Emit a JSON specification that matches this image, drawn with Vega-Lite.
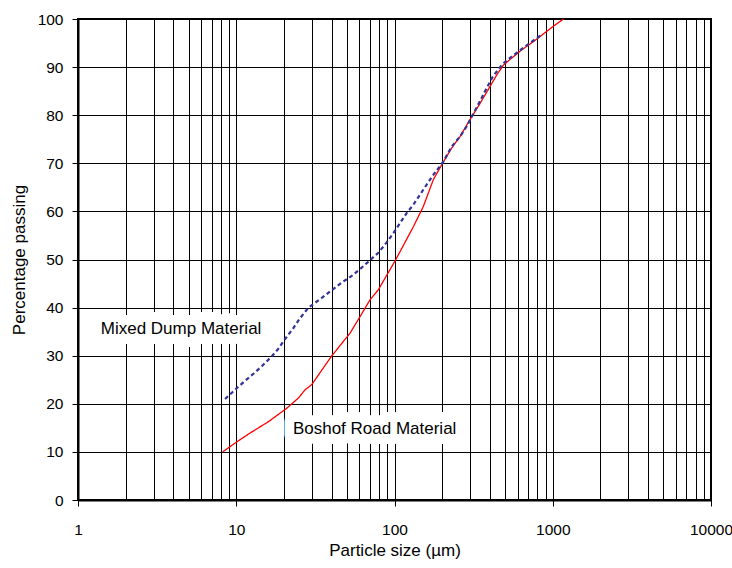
{
  "$schema": "https://vega.github.io/schema/vega-lite/v6.json",
  "width": 633,
  "height": 481,
  "autosize": "none",
  "padding": {"left": 78, "top": 19, "right": 21, "bottom": 68},
  "background": "white",
  "config": {
    "font": "Liberation Sans",
    "view": {"stroke": "#000", "strokeWidth": 2},
    "axis": {
      "domainColor": "#000", "domainWidth": 2,
      "gridColor": "#000", "gridWidth": 1, "gridOpacity": 1,
      "tickColor": "#000", "tickWidth": 1, "tickSize": 6,
      "labelColor": "#000", "labelFontSize": 15.5, "labelFont": "Liberation Sans",
      "titleColor": "#000", "titleFontSize": 17, "titleFontWeight": "normal", "titleFont": "Liberation Sans"
    }
  },
  "datasets": {
    "curves": [
      {"series": "Boshof Road Material", "size": 8.2, "pct": 10},
      {"series": "Boshof Road Material", "size": 10, "pct": 12},
      {"series": "Boshof Road Material", "size": 12.2, "pct": 13.9},
      {"series": "Boshof Road Material", "size": 16, "pct": 16.3},
      {"series": "Boshof Road Material", "size": 20.9, "pct": 19.1},
      {"series": "Boshof Road Material", "size": 24.7, "pct": 21.2},
      {"series": "Boshof Road Material", "size": 27.2, "pct": 22.9},
      {"series": "Boshof Road Material", "size": 30, "pct": 24},
      {"series": "Boshof Road Material", "size": 40, "pct": 29.9},
      {"series": "Boshof Road Material", "size": 52.4, "pct": 34.7},
      {"series": "Boshof Road Material", "size": 59, "pct": 37.5},
      {"series": "Boshof Road Material", "size": 70, "pct": 41.6},
      {"series": "Boshof Road Material", "size": 79, "pct": 43.7},
      {"series": "Boshof Road Material", "size": 102, "pct": 50},
      {"series": "Boshof Road Material", "size": 132, "pct": 56.9},
      {"series": "Boshof Road Material", "size": 152, "pct": 61},
      {"series": "Boshof Road Material", "size": 176, "pct": 66.6},
      {"series": "Boshof Road Material", "size": 202, "pct": 70.1},
      {"series": "Boshof Road Material", "size": 230, "pct": 73.2},
      {"series": "Boshof Road Material", "size": 260, "pct": 75.6},
      {"series": "Boshof Road Material", "size": 300, "pct": 79.1},
      {"series": "Boshof Road Material", "size": 348, "pct": 82.5},
      {"series": "Boshof Road Material", "size": 402, "pct": 86},
      {"series": "Boshof Road Material", "size": 443, "pct": 88.4},
      {"series": "Boshof Road Material", "size": 488, "pct": 90.4},
      {"series": "Boshof Road Material", "size": 551, "pct": 91.9},
      {"series": "Boshof Road Material", "size": 638, "pct": 93.6},
      {"series": "Boshof Road Material", "size": 755, "pct": 95.3},
      {"series": "Boshof Road Material", "size": 873, "pct": 96.9},
      {"series": "Boshof Road Material", "size": 1010, "pct": 98.5},
      {"series": "Boshof Road Material", "size": 1169, "pct": 100},
      {"series": "Mixed Dump Material", "size": 8.5, "pct": 21},
      {"series": "Mixed Dump Material", "size": 9.8, "pct": 22.9},
      {"series": "Mixed Dump Material", "size": 11.3, "pct": 24.7},
      {"series": "Mixed Dump Material", "size": 12.9, "pct": 26.3},
      {"series": "Mixed Dump Material", "size": 14.6, "pct": 27.9},
      {"series": "Mixed Dump Material", "size": 16.8, "pct": 29.9},
      {"series": "Mixed Dump Material", "size": 18.4, "pct": 31.4},
      {"series": "Mixed Dump Material", "size": 20.6, "pct": 33.7},
      {"series": "Mixed Dump Material", "size": 22.8, "pct": 35.6},
      {"series": "Mixed Dump Material", "size": 25.3, "pct": 37.8},
      {"series": "Mixed Dump Material", "size": 28.6, "pct": 40},
      {"series": "Mixed Dump Material", "size": 34.7, "pct": 42},
      {"series": "Mixed Dump Material", "size": 40.1, "pct": 43.6},
      {"series": "Mixed Dump Material", "size": 46.4, "pct": 45.2},
      {"series": "Mixed Dump Material", "size": 53.7, "pct": 46.6},
      {"series": "Mixed Dump Material", "size": 61.5, "pct": 48.2},
      {"series": "Mixed Dump Material", "size": 70.8, "pct": 50},
      {"series": "Mixed Dump Material", "size": 79.1, "pct": 51.4},
      {"series": "Mixed Dump Material", "size": 88.5, "pct": 53.4},
      {"series": "Mixed Dump Material", "size": 98.4, "pct": 55.5},
      {"series": "Mixed Dump Material", "size": 108.5, "pct": 57.6},
      {"series": "Mixed Dump Material", "size": 119.6, "pct": 59.7},
      {"series": "Mixed Dump Material", "size": 131.6, "pct": 61.4},
      {"series": "Mixed Dump Material", "size": 143.7, "pct": 63.3},
      {"series": "Mixed Dump Material", "size": 160, "pct": 65.6},
      {"series": "Mixed Dump Material", "size": 176, "pct": 67.6},
      {"series": "Mixed Dump Material", "size": 204, "pct": 70.4},
      {"series": "Mixed Dump Material", "size": 230, "pct": 73.5},
      {"series": "Mixed Dump Material", "size": 260, "pct": 75.6},
      {"series": "Mixed Dump Material", "size": 286, "pct": 77.7},
      {"series": "Mixed Dump Material", "size": 315, "pct": 80.3},
      {"series": "Mixed Dump Material", "size": 348, "pct": 83},
      {"series": "Mixed Dump Material", "size": 379, "pct": 85.4},
      {"series": "Mixed Dump Material", "size": 416, "pct": 87.9},
      {"series": "Mixed Dump Material", "size": 460, "pct": 89.8},
      {"series": "Mixed Dump Material", "size": 484, "pct": 90.7},
      {"series": "Mixed Dump Material", "size": 551, "pct": 92.2},
      {"series": "Mixed Dump Material", "size": 638, "pct": 93.8},
      {"series": "Mixed Dump Material", "size": 738, "pct": 95.3},
      {"series": "Mixed Dump Material", "size": 865, "pct": 96.9}
    ],
    "labels": [
      {"label": "Mixed Dump Material", "size": 4.48, "pct": 35.6},
      {"label": "Boshof Road Material", "size": 74.9, "pct": 14.8}
    ]
  },
  "layer": [
    {
      "data": {"name": "labels"},
      "mark": {"type": "text", "fontSize": 17, "font": "Liberation Sans", "fill": "white", "stroke": "white", "strokeWidth": 20, "strokeJoin": "round", "align": "center", "baseline": "middle"},
      "encoding": {
        "x": {
          "field": "size", "type": "quantitative",
          "scale": {"type": "log", "domain": [1, 10000]},
          "axis": {
            "values": [1,2,3,4,5,6,7,8,9,10,20,30,40,50,60,70,80,90,100,200,300,400,500,600,700,800,900,1000,2000,3000,4000,5000,6000,7000,8000,9000,10000],
            "grid": true,
            "tickOpacity": {"condition": {"test": "abs(log(datum.value)/LN10 - round(log(datum.value)/LN10)) < 0.001", "value": 1}, "value": 0},
            "labelExpr": "abs(log(datum.value)/LN10 - round(log(datum.value)/LN10)) < 0.001 ? format(datum.value, 'd') : ''",
            "labelOverlap": false,
            "labelPadding": 16,
            "labelFlush": false,
            "title": "Particle size (µm)",
            "titlePadding": 5
          }
        },
        "y": {
          "field": "pct", "type": "quantitative",
          "scale": {"domain": [0, 100]},
          "axis": {
            "values": [0,10,20,30,40,50,60,70,80,90,100],
            "grid": true,
            "labelPadding": 9,
            "title": "Percentage passing",
            "titlePadding": 9
          }
        },
        "text": {"field": "label"}
      }
    },
    {
      "data": {"name": "curves"},
      "mark": {"type": "line"},
      "encoding": {
        "x": {"field": "size", "type": "quantitative"},
        "y": {"field": "pct", "type": "quantitative"},
        "color": {"field": "series", "type": "nominal", "scale": {"domain": ["Boshof Road Material", "Mixed Dump Material"], "range": ["#ff0000", "#333399"]}, "legend": null},
        "strokeDash": {"field": "series", "type": "nominal", "scale": {"domain": ["Boshof Road Material", "Mixed Dump Material"], "range": [[1, 0], [4, 3]]}, "legend": null},
        "strokeWidth": {"field": "series", "type": "nominal", "scale": {"domain": ["Boshof Road Material", "Mixed Dump Material"], "range": [1.3, 2.2]}, "legend": null}
      }
    },
    {
      "data": {"name": "labels"},
      "mark": {"type": "text", "fontSize": 17, "font": "Liberation Sans", "color": "#000", "align": "center", "baseline": "middle"},
      "encoding": {
        "x": {"field": "size", "type": "quantitative"},
        "y": {"field": "pct", "type": "quantitative"},
        "text": {"field": "label"}
      }
    }
  ]
}
